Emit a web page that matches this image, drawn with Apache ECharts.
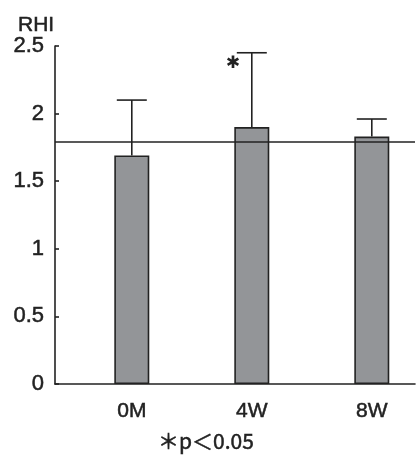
<!DOCTYPE html>
<html>
<head>
<meta charset="utf-8">
<script src="https://cdn.jsdelivr.net/npm/echarts@6/dist/echarts.min.js"></script>
<style>
html,body{margin:0;padding:0;background:#fff;}
#c{width:419px;height:457px;}
</style>
</head>
<body>
<div id="c"></div>
<script>
var categories = ['0M', '4W', '8W'];
var means = [1.69, 1.90, 1.83];
var errors = [0.41, 0.55, 0.13];
var significance = ['', '✱', ''];
var yTicks = [0, 0.5, 1, 1.5, 2, 2.5];
var referenceValue = 1.79;
var noteText = '＊p＜0.05';
var yTitle = 'RHI';

var ink = '#222';
var font = 'Liberation Sans';
var heavy = {textBorderColor: '#222', textBorderWidth: 0.5};

var barData = means.map(function (v, i) { return [i, v]; });
var errData = means.map(function (v, i) { return [i, v, v + errors[i], significance[i]]; });

var chart = echarts.init(document.getElementById('c'), null, {renderer: 'canvas'});
chart.setOption({
  animation: false,
  backgroundColor: '#fff',
  title: [
    {text: yTitle, left: 13, top: 10, textStyle: Object.assign({fontFamily: font, fontSize: 21, fontWeight: 'normal', color: ink}, heavy)},
    {text: noteText, left: 153, top: 426, textStyle: Object.assign({fontFamily: 'Noto Sans CJK JP', fontSize: 21, fontWeight: 'normal', color: ink}, heavy)}
  ],
  grid: {left: 55, top: 46, width: 360, height: 338, containLabel: false},
  xAxis: {
    type: 'value',
    min: -0.64,
    max: 2.36,
    splitLine: {show: false},
    axisLine: {show: true, onZero: false, lineStyle: {color: ink, width: 1.6}},
    axisTick: {show: false},
    axisLabel: Object.assign({
      customValues: [0, 1, 2],
      formatter: function (v) { return categories[Math.round(v)]; },
      fontFamily: font, fontSize: 21, color: ink, margin: 17
    }, heavy)
  },
  yAxis: {
    type: 'value',
    min: 0, max: 2.5, interval: 0.5,
    splitLine: {show: false},
    axisLine: {show: true, onZero: false, lineStyle: {color: ink, width: 1.6}},
    axisTick: {show: true, inside: true, length: 4, lineStyle: {color: ink, width: 1.6}},
    axisLabel: Object.assign({
      formatter: function (v) { return String(v); },
      fontFamily: font, fontSize: 22, color: ink, margin: 11
    }, heavy)
  },
  series: [
    {
      type: 'bar',
      data: barData,
      barWidth: 35,
      itemStyle: {color: '#939598', borderColor: ink, borderWidth: 1.6},
      markLine: {
        symbol: 'none',
        silent: true,
        label: {show: false},
        lineStyle: {color: ink, width: 1.6, type: 'solid'},
        data: [{yAxis: referenceValue}]
      },
      z: 2
    },
    {
      type: 'custom',
      data: errData,
      z: 3,
      renderItem: function (params, api) {
        var x = api.value(0);
        var base = api.coord([x, api.value(1)]);
        var top = api.coord([x, api.value(2)]);
        var hw = 15;
        var children = [
          {type: 'line', shape: {x1: base[0], y1: base[1], x2: top[0], y2: top[1]}, style: {stroke: ink, lineWidth: 1.6}},
          {type: 'line', shape: {x1: top[0] - hw, y1: top[1], x2: top[0] + hw, y2: top[1]}, style: {stroke: ink, lineWidth: 1.6}}
        ];
        var sig = errData[params.dataIndex][3];
        if (sig) {
          children.push({type: 'text', x: top[0] - 19, y: top[1] + 11, style: {text: sig, fill: ink, font: '17px "DejaVu Sans"', align: 'center', verticalAlign: 'middle'}});
        }
        return {type: 'group', children: children};
      }
    }
  ]
});
</script>
</body>
</html>
